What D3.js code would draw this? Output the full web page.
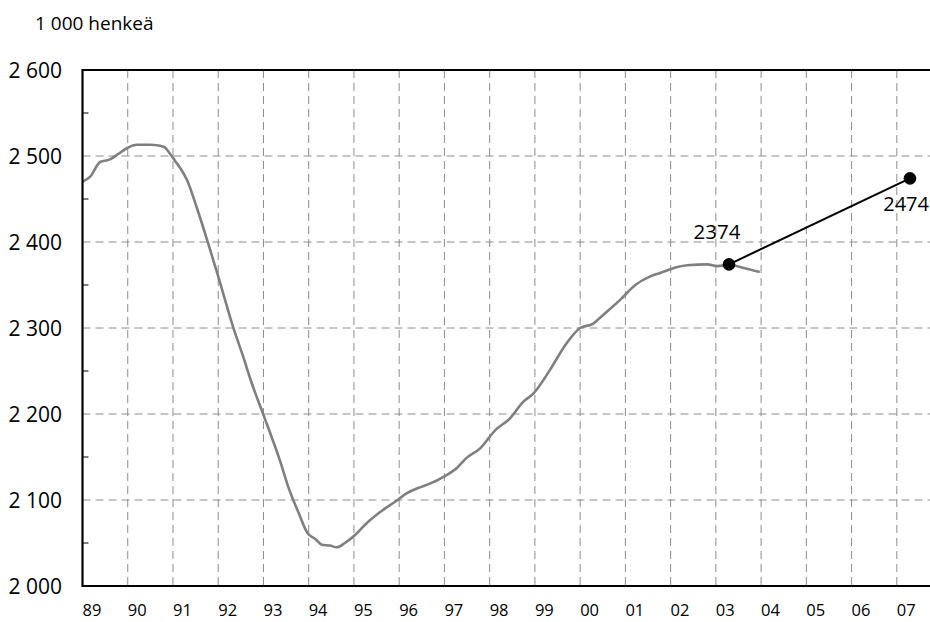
<!DOCTYPE html>
<html>
<head>
<meta charset="utf-8">
<script src="https://cdn.jsdelivr.net/npm/d3@7"></script>
<style>
  body { margin: 0; background: #fff; }
  svg { display: block; font-family: "Open Sans", "DejaVu Sans", sans-serif; }
</style>
</head>
<body>
<script>
// ---- data ----
const unitLabel = "1 000 henkeä";
const yearTicks = [1989,1990,1991,1992,1993,1994,1995,1996,1997,1998,1999,2000,2001,2002,2003,2004,2005,2006,2007];
const yearLabels = ["89","90","91","92","93","94","95","96","97","98","99","00","01","02","03","04","05","06","07"];
const valueTicks = [2000, 2100, 2200, 2300, 2400, 2500, 2600];
const valueLabels = ["2 000","2 100","2 200","2 300","2 400","2 500","2 600"];
const minorTicks = [2050, 2150, 2250, 2350, 2450, 2550];
// employed persons (trend), time in decimal years
const times = [1989.00,1989.17,1989.39,1989.61,1989.78,1989.98,1990.20,1990.49,1990.71,1990.82,1990.93,
  1991.05,1991.16,1991.31,1991.52,1991.78,1992.00,1992.33,1992.55,1992.74,1993.00,1993.37,1993.55,
  1993.77,1993.98,1994.14,1994.29,1994.47,1994.62,1994.80,1995.02,1995.28,1995.58,1995.91,1996.17,
  1996.42,1996.68,1996.98,1997.27,1997.49,1997.79,1998.12,1998.45,1998.74,1998.97,1999.33,1999.67,
  2000.00,2000.29,2000.44,2000.89,2001.22,2001.55,2001.77,2002.15,2002.37,2002.81,2003.03,2003.32,
  2003.68,2003.97];
const employed = [2470,2476,2493,2496,2502,2509,2513,2513,2512,2510,2503,
  2494,2486,2472,2441,2398,2360,2301,2267,2236,2199,2145,2115,
  2086,2061,2055,2048,2047,2045,2050,2059,2073,2086,2098,2108,
  2114,2119,2127,2137,2149,2160,2181,2195,2214,2224,2251,2280,
  2300,2305,2312,2333,2350,2360,2364,2371,2373,2374,2372,2373,
  2369,2365];
// target line
const targetTimes = [2003.29, 2007.29];
const targetValues = [2374, 2474];
const targetLabels = ["2374", "2474"];

// ---- layout ----
const W = 930, H = 622;
const m = {left: 82.5, top: 70, bottom: 36};
const yearWidth = 45.24;
const svg = d3.select("body").append("svg").attr("width", W).attr("height", H);

const x = d3.scaleLinear().domain([1989, 2008]).range([m.left, m.left + 19 * yearWidth]);
const y = d3.scaleLinear().domain([2000, 2600]).range([H - m.bottom, m.top]);

// grid
const grid = svg.append("g").attr("stroke", "#8c8c8c").attr("stroke-width", 1).attr("stroke-dasharray", "8,5");
grid.selectAll("line.v").data(yearTicks.slice(1).concat([2008])).join("line")
  .attr("x1", d => x(d)).attr("x2", d => x(d))
  .attr("y1", y(2600)).attr("y2", y(2000));
grid.selectAll("line.h").data(valueTicks.slice(1, -1)).join("line")
  .attr("x1", x(1989)).attr("x2", W)
  .attr("y1", d => y(d)).attr("y2", d => y(d));

// minor ticks on y axis
svg.append("g").selectAll("line").data(minorTicks).join("line")
  .attr("x1", x(1989)).attr("x2", x(1989) + 6)
  .attr("y1", d => y(d)).attr("y2", d => y(d))
  .attr("stroke", "#000").attr("stroke-width", 1);

// series line
const pts = times.map((t, i) => [t, employed[i]]);
svg.append("path").datum(pts)
  .attr("fill", "none").attr("stroke", "#7f7f7f").attr("stroke-width", 2.6)
  .attr("stroke-linejoin", "round")
  .attr("d", d3.line().x(d => x(d[0])).y(d => y(d[1])).curve(d3.curveMonotoneX));

// frame: left, bottom, top
const frame = svg.append("g").attr("stroke", "#000").attr("stroke-width", 2.2).attr("fill", "none");
frame.append("line").attr("x1", x(1989)).attr("x2", x(1989)).attr("y1", y(2600) - 1).attr("y2", y(2000) + 1);
frame.append("line").attr("x1", x(1989)).attr("x2", W).attr("y1", y(2000)).attr("y2", y(2000));
frame.append("line").attr("x1", x(1989)).attr("x2", W).attr("y1", y(2600)).attr("y2", y(2600));

// target line
const tpts = targetTimes.map((t, i) => [t, targetValues[i]]);
svg.append("path").datum(tpts)
  .attr("fill", "none").attr("stroke", "#000").attr("stroke-width", 2)
  .attr("d", d3.line().x(d => x(d[0])).y(d => y(d[1])));
svg.selectAll("circle.t").data(tpts).join("circle")
  .attr("cx", d => x(d[0])).attr("cy", d => y(d[1])).attr("r", 6.3).attr("fill", "#000");
svg.append("text").attr("x", x(targetTimes[0]) - 12).attr("y", y(targetValues[0]) - 25)
  .attr("text-anchor", "middle").attr("font-size", 20.5).text(targetLabels[0]);
svg.append("text").attr("x", W - 1).attr("y", y(targetValues[1]) + 33)
  .attr("text-anchor", "end").attr("font-size", 20).text(targetLabels[1]);

// y labels
svg.append("g").selectAll("text").data(valueTicks).join("text")
  .attr("x", 62).attr("y", d => y(d)).attr("dy", "0.36em")
  .attr("text-anchor", "end").attr("font-size", 21)
  .text((d, i) => valueLabels[i]);

// x labels
svg.append("g").selectAll("text").data(yearTicks).join("text")
  .attr("x", d => x(d)).attr("y", 616)
  .attr("text-anchor", "start").attr("font-size", 16.5)
  .text((d, i) => yearLabels[i]);

// unit title
svg.append("text").attr("x", 35).attr("y", 30).attr("font-size", 19).text(unitLabel);
</script>
</body>
</html>
